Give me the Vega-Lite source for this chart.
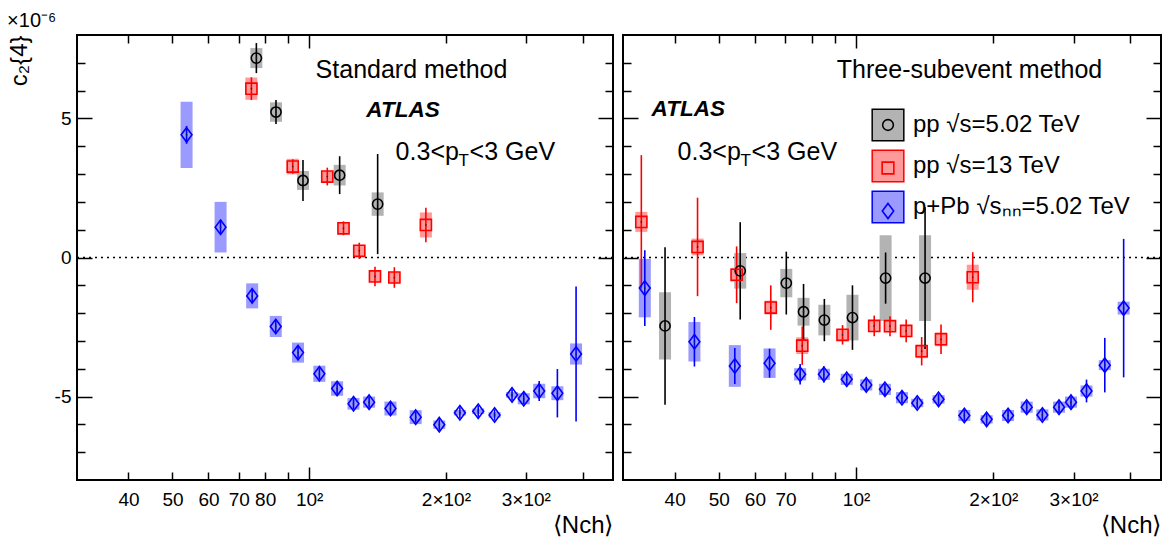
{
  "$schema": "https://vega.github.io/schema/vega-lite/v6.json",
  "padding": {"left": 6, "top": 10, "right": 0, "bottom": 0},
  "config": {
    "font": "Liberation Sans",
    "view": {"stroke": "black", "strokeWidth": 2},
    "axis": {"labelColor": "black", "titleColor": "black", "tickColor": "black", "labelFont": "Liberation Sans", "titleFont": "Liberation Sans", "grid": false, "domain": false, "tickWidth": 1.5},
    "legend": {"labelColor": "black", "labelFont": "Liberation Sans"},
    "title": {"color": "black", "font": "Liberation Sans"}
  },
  "datasets": {
    "d": [
      {"m":"S","s":"A","n":76.5,"v":7.17,"elo":6.63,"ehi":7.71,"slo":6.81,"shi":7.53},
      {"m":"S","s":"A","n":84.5,"v":5.23,"elo":4.8,"ehi":5.66,"slo":4.88,"shi":5.58},
      {"m":"S","s":"A","n":96.9,"v":2.77,"elo":2.03,"ehi":3.51,"slo":2.43,"shi":3.11},
      {"m":"S","s":"A","n":116.7,"v":2.96,"elo":2.28,"ehi":3.64,"slo":2.59,"shi":3.33},
      {"m":"S","s":"A","n":141.5,"v":1.92,"elo":0.12,"ehi":3.72,"slo":1.5,"shi":2.34},
      {"m":"S","s":"B","n":74.6,"v":6.07,"elo":5.66,"ehi":6.48,"slo":5.67,"shi":6.47},
      {"m":"S","s":"B","n":92.0,"v":3.27,"elo":3.01,"ehi":3.53,"slo":2.99,"shi":3.55},
      {"m":"S","s":"B","n":109.6,"v":2.91,"elo":2.59,"ehi":3.23,"slo":2.71,"shi":3.11},
      {"m":"S","s":"B","n":119.0,"v":1.05,"elo":0.8,"ehi":1.3,"slo":0.85,"shi":1.25},
      {"m":"S","s":"B","n":128.9,"v":0.24,"elo":-0.05,"ehi":0.53,"slo":0.04,"shi":0.44},
      {"m":"S","s":"B","n":139.6,"v":-0.68,"elo":-1.03,"ehi":-0.33,"slo":-0.88,"shi":-0.48},
      {"m":"S","s":"B","n":154.0,"v":-0.72,"elo":-1.09,"ehi":-0.35,"slo":-0.92,"shi":-0.52},
      {"m":"S","s":"B","n":180.7,"v":1.17,"elo":0.55,"ehi":1.79,"slo":0.72,"shi":1.62},
      {"m":"S","s":"C","n":53.7,"v":4.41,"elo":4.09,"ehi":4.73,"slo":3.22,"shi":5.6},
      {"m":"S","s":"C","n":63.8,"v":1.09,"elo":0.84,"ehi":1.34,"slo":0.18,"shi":2.0},
      {"m":"S","s":"C","n":74.9,"v":-1.38,"elo":-1.63,"ehi":-1.13,"slo":-1.83,"shi":-0.93},
      {"m":"S","s":"C","n":84.4,"v":-2.48,"elo":-2.73,"ehi":-2.23,"slo":-2.86,"shi":-2.1},
      {"m":"S","s":"C","n":94.5,"v":-3.42,"elo":-3.62,"ehi":-3.22,"slo":-3.78,"shi":-3.06},
      {"m":"S","s":"C","n":105.3,"v":-4.18,"elo":-4.38,"ehi":-3.98,"slo":-4.47,"shi":-3.89},
      {"m":"S","s":"C","n":115.2,"v":-4.71,"elo":-4.91,"ehi":-4.51,"slo":-4.97,"shi":-4.45},
      {"m":"S","s":"C","n":125.2,"v":-5.26,"elo":-5.46,"ehi":-5.06,"slo":-5.47,"shi":-5.05},
      {"m":"S","s":"C","n":135.5,"v":-5.2,"elo":-5.4,"ehi":-5.0,"slo":-5.4,"shi":-5.0},
      {"m":"S","s":"C","n":151.0,"v":-5.43,"elo":-5.63,"ehi":-5.23,"slo":-5.68,"shi":-5.18},
      {"m":"S","s":"C","n":171.6,"v":-5.74,"elo":-5.94,"ehi":-5.54,"slo":-5.99,"shi":-5.49},
      {"m":"S","s":"C","n":193.4,"v":-6.01,"elo":-6.21,"ehi":-5.81,"slo":-6.16,"shi":-5.86},
      {"m":"S","s":"C","n":214.7,"v":-5.58,"elo":-5.78,"ehi":-5.38,"slo":-5.68,"shi":-5.48},
      {"m":"S","s":"C","n":235.6,"v":-5.53,"elo":-5.73,"ehi":-5.33,"slo":-5.63,"shi":-5.43},
      {"m":"S","s":"C","n":256.0,"v":-5.66,"elo":-5.86,"ehi":-5.46,"slo":-5.76,"shi":-5.56},
      {"m":"S","s":"C","n":279.7,"v":-4.94,"elo":-5.14,"ehi":-4.74,"slo":-5.04,"shi":-4.84},
      {"m":"S","s":"C","n":296.8,"v":-5.08,"elo":-5.28,"ehi":-4.88,"slo":-5.28,"shi":-4.88},
      {"m":"S","s":"C","n":321.0,"v":-4.8,"elo":-5.16,"ehi":-4.44,"slo":-5.06,"shi":-4.54},
      {"m":"S","s":"C","n":352.0,"v":-4.88,"elo":-5.75,"ehi":-4.01,"slo":-5.13,"shi":-4.63},
      {"m":"S","s":"C","n":387.0,"v":-3.47,"elo":-5.9,"ehi":-1.04,"slo":-3.85,"shi":-3.09},
      {"m":"T","s":"A","n":38.1,"v":-2.46,"elo":-5.29,"ehi":0.37,"slo":-3.67,"shi":-1.25},
      {"m":"T","s":"A","n":55.7,"v":-0.48,"elo":-2.23,"ehi":1.27,"slo":-1.12,"shi":0.16},
      {"m":"T","s":"A","n":70.3,"v":-0.92,"elo":-2.05,"ehi":0.21,"slo":-1.43,"shi":-0.41},
      {"m":"T","s":"A","n":76.7,"v":-1.95,"elo":-2.95,"ehi":-0.95,"slo":-2.45,"shi":-1.45},
      {"m":"T","s":"A","n":85.2,"v":-2.25,"elo":-3.01,"ehi":-1.49,"slo":-2.8,"shi":-1.7},
      {"m":"T","s":"A","n":98.2,"v":-2.16,"elo":-3.32,"ehi":-1.0,"slo":-2.98,"shi":-1.34},
      {"m":"T","s":"A","n":116.1,"v":-0.74,"elo":-1.66,"ehi":0.18,"slo":-2.28,"shi":0.8},
      {"m":"T","s":"A","n":141.7,"v":-0.74,"elo":-3.29,"ehi":1.81,"slo":-2.28,"shi":0.8},
      {"m":"T","s":"B","n":33.8,"v":1.28,"elo":-1.12,"ehi":3.68,"slo":0.92,"shi":1.64},
      {"m":"T","s":"B","n":44.9,"v":0.38,"elo":-1.39,"ehi":2.15,"slo":0.08,"shi":0.68},
      {"m":"T","s":"B","n":54.7,"v":-0.62,"elo":-1.64,"ehi":0.4,"slo":-0.87,"shi":-0.37},
      {"m":"T","s":"B","n":65.0,"v":-1.8,"elo":-2.6,"ehi":-1.0,"slo":-2.05,"shi":-1.55},
      {"m":"T","s":"B","n":76.2,"v":-3.17,"elo":-3.86,"ehi":-2.48,"slo":-3.47,"shi":-2.87},
      {"m":"T","s":"B","n":93.4,"v":-2.78,"elo":-3.13,"ehi":-2.43,"slo":-2.98,"shi":-2.58},
      {"m":"T","s":"B","n":109.6,"v":-2.46,"elo":-2.83,"ehi":-2.09,"slo":-2.66,"shi":-2.26},
      {"m":"T","s":"B","n":118.7,"v":-2.47,"elo":-2.83,"ehi":-2.11,"slo":-2.67,"shi":-2.27},
      {"m":"T","s":"B","n":128.8,"v":-2.64,"elo":-3.05,"ehi":-2.23,"slo":-2.84,"shi":-2.44},
      {"m":"T","s":"B","n":139.3,"v":-3.37,"elo":-3.88,"ehi":-2.86,"slo":-3.62,"shi":-3.12},
      {"m":"T","s":"B","n":153.6,"v":-2.94,"elo":-3.47,"ehi":-2.41,"slo":-3.19,"shi":-2.69},
      {"m":"T","s":"B","n":180.3,"v":-0.71,"elo":-1.61,"ehi":0.19,"slo":-1.16,"shi":-0.26},
      {"m":"T","s":"C","n":34.4,"v":-1.1,"elo":-2.46,"ehi":0.26,"slo":-2.15,"shi":-0.05},
      {"m":"T","s":"C","n":44.2,"v":-3.03,"elo":-3.92,"ehi":-2.14,"slo":-3.74,"shi":-2.32},
      {"m":"T","s":"C","n":54.2,"v":-3.9,"elo":-4.55,"ehi":-3.25,"slo":-4.65,"shi":-3.15},
      {"m":"T","s":"C","n":64.6,"v":-3.8,"elo":-4.32,"ehi":-3.28,"slo":-4.33,"shi":-3.27},
      {"m":"T","s":"C","n":75.4,"v":-4.2,"elo":-4.57,"ehi":-3.83,"slo":-4.42,"shi":-3.98},
      {"m":"T","s":"C","n":85.0,"v":-4.2,"elo":-4.49,"ehi":-3.91,"slo":-4.4,"shi":-4.0},
      {"m":"T","s":"C","n":95.4,"v":-4.38,"elo":-4.58,"ehi":-4.18,"slo":-4.58,"shi":-4.18},
      {"m":"T","s":"C","n":105.3,"v":-4.58,"elo":-4.78,"ehi":-4.38,"slo":-4.78,"shi":-4.38},
      {"m":"T","s":"C","n":115.7,"v":-4.74,"elo":-4.94,"ehi":-4.54,"slo":-4.94,"shi":-4.54},
      {"m":"T","s":"C","n":126.1,"v":-5.04,"elo":-5.24,"ehi":-4.84,"slo":-5.24,"shi":-4.84},
      {"m":"T","s":"C","n":136.2,"v":-5.23,"elo":-5.43,"ehi":-5.03,"slo":-5.38,"shi":-5.08},
      {"m":"T","s":"C","n":151.7,"v":-5.1,"elo":-5.3,"ehi":-4.9,"slo":-5.25,"shi":-4.95},
      {"m":"T","s":"C","n":172.8,"v":-5.68,"elo":-5.88,"ehi":-5.48,"slo":-5.88,"shi":-5.48},
      {"m":"T","s":"C","n":193.4,"v":-5.82,"elo":-6.02,"ehi":-5.62,"slo":-5.97,"shi":-5.67},
      {"m":"T","s":"C","n":215.5,"v":-5.68,"elo":-5.88,"ehi":-5.48,"slo":-5.88,"shi":-5.48},
      {"m":"T","s":"C","n":236.8,"v":-5.38,"elo":-5.58,"ehi":-5.18,"slo":-5.58,"shi":-5.18},
      {"m":"T","s":"C","n":256.3,"v":-5.66,"elo":-5.86,"ehi":-5.46,"slo":-5.86,"shi":-5.46},
      {"m":"T","s":"C","n":278.8,"v":-5.38,"elo":-5.58,"ehi":-5.18,"slo":-5.58,"shi":-5.18},
      {"m":"T","s":"C","n":296.2,"v":-5.2,"elo":-5.4,"ehi":-5.0,"slo":-5.4,"shi":-5.0},
      {"m":"T","s":"C","n":320.3,"v":-4.8,"elo":-5.21,"ehi":-4.39,"slo":-5.0,"shi":-4.6},
      {"m":"T","s":"C","n":351.3,"v":-3.87,"elo":-4.85,"ehi":-2.89,"slo":-4.05,"shi":-3.69},
      {"m":"T","s":"C","n":386.4,"v":-1.82,"elo":-4.31,"ehi":0.67,"slo":-2.05,"shi":-1.59}
    ]
  },
  "hconcat": [
    {
      "width": 536,
      "height": 445,
      "title": {"text": "×10⁻⁶", "anchor": "start", "fontSize": 20, "fontWeight": "normal", "offset": 3},
      "layer": [
        {
          "data": {"values": [{}]},
          "mark": {"type": "rule", "strokeDash": [2, 4], "strokeWidth": 1.5, "color": "black"},
          "encoding": {"y": {"datum": 0, "type": "quantitative", "scale": {"domain": [-8, 8], "nice": false, "zero": false}, "axis": null}}
        },
        {
          "data": {"values": [{}]},
          "mark": {"type": "text", "text": " "},
          "encoding": {
            "x": {"datum": 100, "type": "quantitative", "scale": {"type": "log", "domain": [31.6, 455], "nice": false}, "axis": {"orient": "bottom", "values": [40, 50, 60, 70, 80, 90, 200, 300, 400], "labelExpr": "''", "labelFontSize": 1, "labelPadding": 0, "labelOpacity": 0, "tickSize": 8, "offset": -8, "title": null}},
            "y": {"datum": 0, "type": "quantitative", "scale": {"domain": [-8, 8], "nice": false, "zero": false}, "axis": {"orient": "left", "values": [-7, -6, -4, -3, -2, -1, 1, 2, 3, 4, 6, 7], "labelExpr": "''", "labelFontSize": 1, "labelPadding": 0, "labelOpacity": 0, "tickSize": 8, "offset": -8, "title": null}}
          }
        },
        {
          "data": {"values": [{}]},
          "mark": {"type": "text", "text": " "},
          "encoding": {
            "x": {"datum": 100, "type": "quantitative", "axis": {"orient": "top", "values": [40, 50, 60, 70, 80, 90, 200, 300, 400], "labelExpr": "''", "labelFontSize": 1, "labelPadding": 0, "labelOpacity": 0, "tickSize": 8, "offset": -8, "title": null}},
            "y": {"datum": 0, "type": "quantitative", "axis": {"orient": "right", "values": [-7, -6, -4, -3, -2, -1, 1, 2, 3, 4, 6, 7], "labelExpr": "''", "labelFontSize": 1, "labelPadding": 0, "labelOpacity": 0, "tickSize": 8, "offset": -8, "title": null}}
          }
        },
        {
          "data": {"name": "d"},
          "transform": [{"filter": "datum.m === 'S'"}],
          "mark": {"type": "bar", "size": 12, "strokeWidth": 0},
          "encoding": {
            "x": {"field": "n", "type": "quantitative", "scale": {"type": "log", "domain": [31.6, 455], "nice": false},
              "axis": {"orient": "bottom", "values": [40, 50, 60, 70, 80, 100, 200, 300], "ticks": false, "labelExpr": "datum.value == 100 ? '10²' : datum.value == 200 ? '2×10²' : datum.value == 300 ? '3×10²' : datum.label", "labelFontSize": 19, "labelPadding": 10, "labelFlush": false, "labelOverlap": false, "title": "⟨Nch⟩", "titleAnchor": "end", "titleFontSize": 24, "titleFontWeight": "normal", "titlePadding": 4}},
            "y": {"field": "slo", "type": "quantitative", "scale": {"domain": [-8, 8], "nice": false, "zero": false},
              "axis": {"orient": "left", "values": [-5, 0, 5], "ticks": false, "labelExpr": "'' + datum.value", "labelFontSize": 19, "labelPadding": 6, "title": "c₂{4}", "titleAnchor": "end", "titleFontSize": 24, "titleFontWeight": "normal", "titlePadding": 23}},
            "y2": {"field": "shi"},
            "fill": {"field": "s", "type": "nominal", "scale": {"domain": ["A", "B", "C"], "range": ["#b3b3b3", "#ff9a9a", "#9a9aff"]}, "legend": null}
          }
        },
        {
          "data": {"name": "d"},
          "transform": [{"filter": "datum.m === 'S'"}],
          "mark": {"type": "rule", "strokeWidth": 1.6},
          "encoding": {
            "x": {"field": "n", "type": "quantitative", "scale": {"type": "log", "domain": [31.6, 455], "nice": false}, "axis": null},
            "y": {"field": "elo", "type": "quantitative", "scale": {"domain": [-8, 8], "nice": false, "zero": false}, "axis": null},
            "y2": {"field": "ehi"},
            "stroke": {"field": "s", "type": "nominal", "scale": {"domain": ["A", "B", "C"], "range": ["#000000", "#ff0000", "#0000ff"]}, "legend": null}
          }
        },
        {
          "data": {"name": "d"},
          "transform": [{"filter": "datum.m === 'S'"}],
          "mark": {"type": "point", "filled": false, "size": 900, "strokeWidth": 1.6, "opacity": 1},
          "encoding": {
            "x": {"field": "n", "type": "quantitative", "scale": {"type": "log", "domain": [31.6, 455], "nice": false}, "axis": null},
            "y": {"field": "v", "type": "quantitative", "scale": {"domain": [-8, 8], "nice": false, "zero": false}, "axis": null},
            "shape": {"field": "s", "type": "nominal", "scale": {"domain": ["A", "B", "C"], "range": ["M-1,-1M1,1M-0.34,0A0.34,0.34,0,1,0,0.34,0A0.34,0.34,0,1,0,-0.34,0Z", "M-1,-1M1,1M-0.37,-0.37L0.37,-0.37L0.37,0.37L-0.37,0.37Z", "M-1,-1M1,1M0,-0.48L0.36,0L0,0.48L-0.36,0Z"]}, "legend": null},
            "stroke": {"field": "s", "type": "nominal", "scale": {"domain": ["A", "B", "C"], "range": ["#000000", "#ff0000", "#0000ff"]}, "legend": null}
          }
        },
        {
          "data": {"name": "d"},
          "transform": [{"filter": "datum.m === 'S'"}],
          "mark": {"type": "point", "filled": true, "size": 3, "color": "#222222", "opacity": 0.8},
          "encoding": {
            "x": {"field": "n", "type": "quantitative", "scale": {"type": "log", "domain": [31.6, 455], "nice": false},
              "axis": {"orient": "bottom", "values": [100], "labelExpr": "''", "labelFontSize": 1, "labelPadding": 0, "labelOpacity": 0, "tickSize": 13, "offset": -13, "title": null}},
            "y": {"field": "v", "type": "quantitative", "scale": {"domain": [-8, 8], "nice": false, "zero": false},
              "axis": {"orient": "left", "values": [-5, 0, 5], "labelExpr": "''", "labelFontSize": 1, "labelPadding": 0, "labelOpacity": 0, "tickSize": 15, "offset": -15, "title": null}}
          }
        },
        {
          "data": {"values": [{}]},
          "mark": {"type": "text", "text": "Standard method", "fontSize": 25, "align": "center", "baseline": "alphabetic", "color": "black"},
          "encoding": {
            "x": {"datum": 168, "type": "quantitative", "axis": {"orient": "top", "values": [100], "labelExpr": "''", "labelFontSize": 1, "labelPadding": 0, "labelOpacity": 0, "tickSize": 13, "offset": -13, "title": null}},
            "y": {"datum": 6.44, "type": "quantitative", "axis": {"orient": "right", "values": [-5, 0, 5], "labelExpr": "''", "labelFontSize": 1, "labelPadding": 0, "labelOpacity": 0, "tickSize": 15, "offset": -15, "title": null}}
          }
        },
        {
          "data": {"values": [{}]},
          "mark": {"type": "text", "text": "ATLAS", "fontSize": 22.5, "fontWeight": "bold", "fontStyle": "italic", "align": "left", "baseline": "alphabetic", "color": "black"},
          "encoding": {"x": {"datum": 133.6, "type": "quantitative", "axis": null}, "y": {"datum": 5.04, "type": "quantitative", "axis": null}}
        },
        {
          "data": {"values": [{}]},
          "mark": {"type": "text", "text": "0.3<p", "fontSize": 25, "align": "left", "baseline": "alphabetic", "color": "black"},
          "encoding": {"x": {"datum": 155, "type": "quantitative", "axis": null}, "y": {"datum": 3.49, "type": "quantitative", "axis": null}}
        },
        {
          "data": {"values": [{}]},
          "mark": {"type": "text", "text": "T", "fontSize": 17, "align": "left", "baseline": "alphabetic", "dx": 63, "dy": 6, "color": "black"},
          "encoding": {"x": {"datum": 155, "type": "quantitative", "axis": null}, "y": {"datum": 3.49, "type": "quantitative", "axis": null}}
        },
        {
          "data": {"values": [{}]},
          "mark": {"type": "text", "text": "<3 GeV", "fontSize": 25, "align": "left", "baseline": "alphabetic", "dx": 74, "color": "black"},
          "encoding": {"x": {"datum": 155, "type": "quantitative", "axis": null}, "y": {"datum": 3.49, "type": "quantitative", "axis": null}}
        }
      ],
      "resolve": {"axis": {"x": "independent", "y": "independent"}}
    },
    {
      "width": 538,
      "height": 445,
      "layer": [
        {
          "data": {"values": [{}]},
          "mark": {"type": "rule", "strokeDash": [2, 4], "strokeWidth": 1.5, "color": "black"},
          "encoding": {"y": {"datum": 0, "type": "quantitative", "scale": {"domain": [-8, 8], "nice": false, "zero": false}, "axis": null}}
        },
        {
          "data": {"values": [{}]},
          "mark": {"type": "text", "text": " "},
          "encoding": {
            "x": {"datum": 100, "type": "quantitative", "scale": {"type": "log", "domain": [31.6, 455], "nice": false}, "axis": {"orient": "bottom", "values": [40, 50, 60, 70, 80, 90, 200, 300, 400], "labelExpr": "''", "labelFontSize": 1, "labelPadding": 0, "labelOpacity": 0, "tickSize": 8, "offset": -8, "title": null}},
            "y": {"datum": 0, "type": "quantitative", "scale": {"domain": [-8, 8], "nice": false, "zero": false}, "axis": {"orient": "left", "values": [-7, -6, -4, -3, -2, -1, 1, 2, 3, 4, 6, 7], "labelExpr": "''", "labelFontSize": 1, "labelPadding": 0, "labelOpacity": 0, "tickSize": 8, "offset": -8, "title": null}}
          }
        },
        {
          "data": {"values": [{}]},
          "mark": {"type": "text", "text": " "},
          "encoding": {
            "x": {"datum": 100, "type": "quantitative", "axis": {"orient": "top", "values": [40, 50, 60, 70, 80, 90, 200, 300, 400], "labelExpr": "''", "labelFontSize": 1, "labelPadding": 0, "labelOpacity": 0, "tickSize": 8, "offset": -8, "title": null}},
            "y": {"datum": 0, "type": "quantitative", "axis": {"orient": "right", "values": [-7, -6, -4, -3, -2, -1, 1, 2, 3, 4, 6, 7], "labelExpr": "''", "labelFontSize": 1, "labelPadding": 0, "labelOpacity": 0, "tickSize": 8, "offset": -8, "title": null}}
          }
        },
        {
          "data": {"name": "d"},
          "transform": [{"filter": "datum.m === 'T'"}],
          "mark": {"type": "bar", "size": 12, "strokeWidth": 0},
          "encoding": {
            "x": {"field": "n", "type": "quantitative", "scale": {"type": "log", "domain": [31.6, 455], "nice": false},
              "axis": {"orient": "bottom", "values": [40, 50, 60, 70, 100, 200, 300], "ticks": false, "labelExpr": "datum.value == 100 ? '10²' : datum.value == 200 ? '2×10²' : datum.value == 300 ? '3×10²' : datum.label", "labelFontSize": 19, "labelPadding": 10, "labelFlush": false, "labelOverlap": false, "title": "⟨Nch⟩", "titleAnchor": "end", "titleFontSize": 24, "titleFontWeight": "normal", "titlePadding": 4}},
            "y": {"field": "slo", "type": "quantitative", "scale": {"domain": [-8, 8], "nice": false, "zero": false}, "axis": null},
            "y2": {"field": "shi"},
            "fill": {"field": "s", "type": "nominal", "scale": {"domain": ["A", "B", "C"], "range": ["#b3b3b3", "#ff9a9a", "#9a9aff"]},
              "legend": {"orient": "none", "legendX": 248, "legendY": 73, "title": null, "padding": 0, "symbolType": "square", "symbolSize": 1000, "symbolStrokeWidth": 1.5, "symbolOpacity": 1, "labelFontSize": 24, "labelOffset": 8, "rowPadding": 3, "labelLimit": 400, "labelExpr": "datum.label == 'A' ? 'pp  √s=5.02 TeV' : datum.label == 'B' ? 'pp  √s=13 TeV' : 'p+Pb √sₙₙ=5.02 TeV'"}},
            "stroke": {"field": "s", "type": "nominal", "scale": {"domain": ["A", "B", "C"], "range": ["#000000", "#ff0000", "#0000ff"]},
              "legend": {"orient": "none", "legendX": 248, "legendY": 73, "title": null, "padding": 0, "symbolType": "square", "symbolSize": 1000, "symbolStrokeWidth": 1.5, "symbolOpacity": 1, "labelFontSize": 24, "labelOffset": 8, "rowPadding": 3, "labelLimit": 400, "labelExpr": "datum.label == 'A' ? 'pp  √s=5.02 TeV' : datum.label == 'B' ? 'pp  √s=13 TeV' : 'p+Pb √sₙₙ=5.02 TeV'"}}
          }
        },
        {
          "data": {"name": "d"},
          "transform": [{"filter": "datum.m === 'T'"}],
          "mark": {"type": "rule", "strokeWidth": 1.6},
          "encoding": {
            "x": {"field": "n", "type": "quantitative", "scale": {"type": "log", "domain": [31.6, 455], "nice": false}, "axis": null},
            "y": {"field": "elo", "type": "quantitative", "scale": {"domain": [-8, 8], "nice": false, "zero": false}, "axis": null},
            "y2": {"field": "ehi"},
            "stroke": {"field": "s", "type": "nominal", "scale": {"domain": ["A", "B", "C"], "range": ["#000000", "#ff0000", "#0000ff"]}, "legend": null}
          }
        },
        {
          "data": {"name": "d"},
          "transform": [{"filter": "datum.m === 'T'"}],
          "mark": {"type": "point", "filled": false, "size": 900, "strokeWidth": 1.6, "opacity": 1},
          "encoding": {
            "x": {"field": "n", "type": "quantitative", "scale": {"type": "log", "domain": [31.6, 455], "nice": false}, "axis": null},
            "y": {"field": "v", "type": "quantitative", "scale": {"domain": [-8, 8], "nice": false, "zero": false}, "axis": null},
            "shape": {"field": "s", "type": "nominal", "scale": {"domain": ["A", "B", "C"], "range": ["M-1,-1M1,1M-0.34,0A0.34,0.34,0,1,0,0.34,0A0.34,0.34,0,1,0,-0.34,0Z", "M-1,-1M1,1M-0.37,-0.37L0.37,-0.37L0.37,0.37L-0.37,0.37Z", "M-1,-1M1,1M0,-0.48L0.36,0L0,0.48L-0.36,0Z"]},
              "legend": {"orient": "none", "legendX": 248, "legendY": 73, "title": null, "padding": 0, "symbolSize": 1000, "symbolStrokeWidth": 1.6, "symbolFillColor": "transparent", "symbolOpacity": 1, "labelFontSize": 24, "labelOffset": 8, "rowPadding": 3, "labelExpr": "''"}},
            "stroke": {"field": "s", "type": "nominal", "scale": {"domain": ["A", "B", "C"], "range": ["#000000", "#ff0000", "#0000ff"]},
              "legend": {"orient": "none", "legendX": 248, "legendY": 73, "title": null, "padding": 0, "symbolSize": 1000, "symbolStrokeWidth": 1.6, "symbolFillColor": "transparent", "symbolOpacity": 1, "labelFontSize": 24, "labelOffset": 8, "rowPadding": 3, "labelExpr": "''"}}
          }
        },
        {
          "data": {"name": "d"},
          "transform": [{"filter": "datum.m === 'T'"}],
          "mark": {"type": "point", "filled": true, "size": 3, "color": "#222222", "opacity": 0.8},
          "encoding": {
            "x": {"field": "n", "type": "quantitative", "scale": {"type": "log", "domain": [31.6, 455], "nice": false},
              "axis": {"orient": "bottom", "values": [100], "labelExpr": "''", "labelFontSize": 1, "labelPadding": 0, "labelOpacity": 0, "tickSize": 13, "offset": -13, "title": null}},
            "y": {"field": "v", "type": "quantitative", "scale": {"domain": [-8, 8], "nice": false, "zero": false},
              "axis": {"orient": "left", "values": [-5, 0, 5], "labelExpr": "''", "labelFontSize": 1, "labelPadding": 0, "labelOpacity": 0, "tickSize": 15, "offset": -15, "title": null}}
          }
        },
        {
          "data": {"values": [{}]},
          "mark": {"type": "text", "text": "Three-subevent method", "fontSize": 25, "align": "center", "baseline": "alphabetic", "color": "black"},
          "encoding": {
            "x": {"datum": 177.4, "type": "quantitative", "axis": {"orient": "top", "values": [100], "labelExpr": "''", "labelFontSize": 1, "labelPadding": 0, "labelOpacity": 0, "tickSize": 13, "offset": -13, "title": null}},
            "y": {"datum": 6.44, "type": "quantitative", "axis": {"orient": "right", "values": [-5, 0, 5], "labelExpr": "''", "labelFontSize": 1, "labelPadding": 0, "labelOpacity": 0, "tickSize": 15, "offset": -15, "title": null}}
          }
        },
        {
          "data": {"values": [{}]},
          "mark": {"type": "text", "text": "ATLAS", "fontSize": 22.5, "fontWeight": "bold", "fontStyle": "italic", "align": "left", "baseline": "alphabetic", "color": "black"},
          "encoding": {"x": {"datum": 35.6, "type": "quantitative", "axis": null}, "y": {"datum": 5.07, "type": "quantitative", "axis": null}}
        },
        {
          "data": {"values": [{}]},
          "mark": {"type": "text", "text": "0.3<p", "fontSize": 25, "align": "left", "baseline": "alphabetic", "color": "black"},
          "encoding": {"x": {"datum": 40.6, "type": "quantitative", "axis": null}, "y": {"datum": 3.49, "type": "quantitative", "axis": null}}
        },
        {
          "data": {"values": [{}]},
          "mark": {"type": "text", "text": "T", "fontSize": 17, "align": "left", "baseline": "alphabetic", "dx": 63, "dy": 6, "color": "black"},
          "encoding": {"x": {"datum": 40.6, "type": "quantitative", "axis": null}, "y": {"datum": 3.49, "type": "quantitative", "axis": null}}
        },
        {
          "data": {"values": [{}]},
          "mark": {"type": "text", "text": "<3 GeV", "fontSize": 25, "align": "left", "baseline": "alphabetic", "dx": 74, "color": "black"},
          "encoding": {"x": {"datum": 40.6, "type": "quantitative", "axis": null}, "y": {"datum": 3.49, "type": "quantitative", "axis": null}}
        }
      ],
      "resolve": {
        "axis": {"x": "independent", "y": "independent"},
        "scale": {"fill": "independent", "stroke": "independent", "shape": "independent"},
        "legend": {"fill": "independent", "stroke": "independent", "shape": "independent"}
      }
    }
  ],
  "spacing": 10,
  "bounds": "flush",
  "resolve": {
    "scale": {"x": "independent", "y": "independent", "fill": "independent", "stroke": "independent", "shape": "independent"},
    "legend": {"fill": "independent", "stroke": "independent", "shape": "independent"}
  }
}
